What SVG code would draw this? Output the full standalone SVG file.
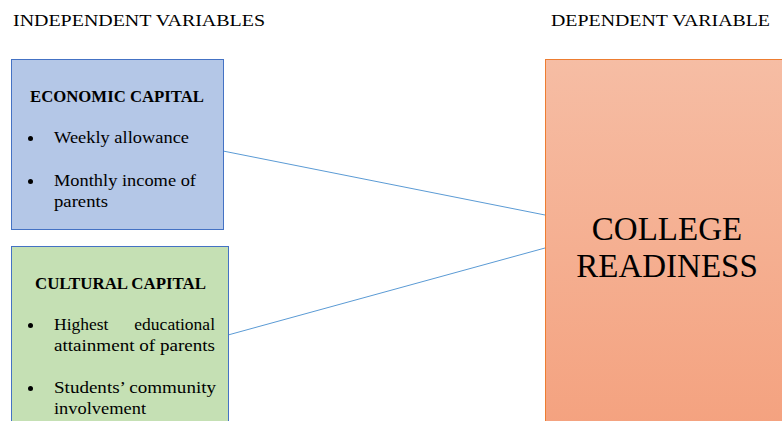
<svg xmlns="http://www.w3.org/2000/svg" width="782" height="421" viewBox="0 0 782 421">
<style>
text{font-family:"Liberation Serif","Times New Roman",serif;fill:#000}
.hd{font-size:17px}
.t{font-size:17.5px}
.b{font-size:16.5px;font-weight:bold}
.big{font-size:33px}
.conn{stroke:#5B9BD5;stroke-width:1;fill:none}
</style>
<defs>
<linearGradient id="og" x1="0" y1="0" x2="0" y2="1">
<stop offset="0" stop-color="#F6BDA4"/>
<stop offset="1" stop-color="#F4A17E"/>
</linearGradient>
</defs>
<rect width="782" height="421" fill="#fff"/>
<text class="hd" x="13" y="26" textLength="252" lengthAdjust="spacingAndGlyphs">INDEPENDENT  VARIABLES</text>
<text class="hd" x="551" y="26" textLength="219" lengthAdjust="spacingAndGlyphs">DEPENDENT VARIABLE</text>
<g id="connectors">
<line class="conn" x1="223" y1="151" x2="545" y2="215"/>
<line class="conn" x1="228" y1="335" x2="545" y2="248"/>
</g>
<g id="economic">
<rect x="11.5" y="59.5" width="212" height="170" fill="#B4C7E7" stroke="#4472C4"/>
<text class="b" x="30" y="102" textLength="174" lengthAdjust="spacingAndGlyphs">ECONOMIC CAPITAL</text>
<circle cx="30.5" cy="138.5" r="2.5" fill="#000"/>
<text class="t" x="54" y="143" textLength="135" lengthAdjust="spacingAndGlyphs">Weekly allowance</text>
<circle cx="30.5" cy="181.5" r="2.5" fill="#000"/>
<text class="t" x="54" y="186" textLength="142" lengthAdjust="spacingAndGlyphs">Monthly income of</text>
<text class="t" x="54" y="207" textLength="54" lengthAdjust="spacingAndGlyphs">parents</text>
</g>
<g id="cultural">
<rect x="11.5" y="246.5" width="217" height="180" fill="#C5E0B4" stroke="#4472C4"/>
<text class="b" x="35" y="289" textLength="171" lengthAdjust="spacingAndGlyphs">CULTURAL CAPITAL</text>
<circle cx="30.5" cy="325.5" r="2.5" fill="#000"/>
<text class="t" x="54" y="330">Highest <tspan x="215" text-anchor="end">educational</tspan></text>
<text class="t" x="54" y="351" textLength="161" lengthAdjust="spacingAndGlyphs">attainment of parents</text>
<circle cx="30.5" cy="388.5" r="2.5" fill="#000"/>
<text class="t" x="54" y="393" textLength="162" lengthAdjust="spacingAndGlyphs">Students’ community</text>
<text class="t" x="54" y="414" textLength="92" lengthAdjust="spacingAndGlyphs">involvement</text>
</g>
<g id="college">
<rect x="545.5" y="59.5" width="250" height="380" fill="url(#og)" stroke="#ED7D31"/>
<text class="big" x="667" y="240" text-anchor="middle">COLLEGE</text>
<text class="big" x="667" y="277" text-anchor="middle">READINESS</text>
</g>
</svg>
